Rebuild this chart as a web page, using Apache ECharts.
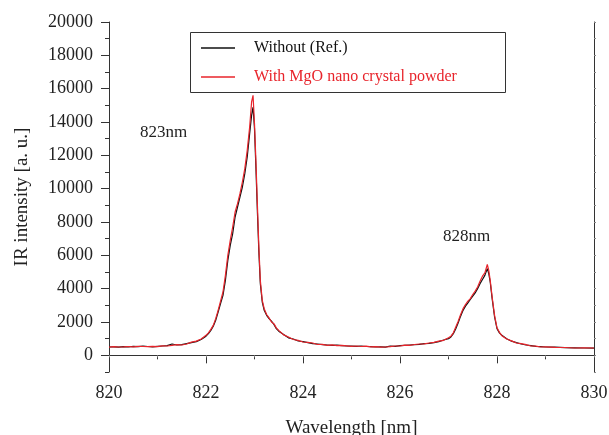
<!DOCTYPE html>
<html><head><meta charset="utf-8">
<script src="https://cdn.jsdelivr.net/npm/echarts@6/dist/echarts.min.js"></script>
<style>html,body{margin:0;padding:0;background:#fff}#c{width:609px;height:435px}</style>
</head><body><div id="c"></div>
<script>
const wavelengths = [820.0,820.1,820.2,820.3,820.4,820.5,820.6,820.7,820.8,820.9,821.0,821.1,821.2,821.3,821.4,821.5,821.6,821.7,821.8,821.9,
822.0,822.05,822.1,822.15,822.2,822.25,822.3,822.35,822.4,822.45,822.5,822.55,822.6,822.65,822.7,822.75,822.8,822.85,822.9,822.94,822.97,
823.0,823.03,823.06,823.09,823.12,823.16,823.2,823.25,823.3,823.35,823.4,823.45,823.5,823.6,823.7,823.8,823.9,
824.0,824.1,824.2,824.3,824.4,824.5,824.6,824.7,824.8,824.9,825.0,825.1,825.2,825.3,825.4,825.5,825.6,825.7,825.8,825.9,
826.0,826.1,826.2,826.3,826.4,826.5,826.6,826.7,826.8,826.9,827.0,827.05,827.1,827.15,827.2,827.25,827.3,827.35,827.4,827.45,827.5,827.55,827.6,827.65,827.7,827.75,827.8,827.83,827.86,827.9,827.95,
828.0,828.05,828.1,828.2,828.3,828.4,828.5,828.6,828.7,828.8,828.9,829.0,829.2,829.4,829.6,829.8,830.0];
const withoutRef = [500,510,490,520,500,540,520,550,530,510,540,560,580,680,620,640,700,760,820,950,
1150,1300,1500,1750,2100,2600,3100,3600,4500,5700,6600,7300,8300,8900,9500,10100,10900,11900,13300,14400,14900,
13600,11200,8600,6200,4300,3200,2700,2400,2200,2050,1850,1600,1450,1250,1050,980,860,
820,760,700,680,640,620,600,610,580,560,550,540,560,530,520,500,510,490,560,540,
580,600,620,640,660,700,720,760,820,920,1000,1100,1300,1600,1950,2350,2700,2950,3150,3350,3550,3750,4000,4300,4550,4800,5200,4900,4400,3400,2300,
1600,1350,1200,1000,850,760,680,620,580,540,520,500,490,460,450,440,430];
const withMgO = [490,520,500,510,530,510,540,530,520,540,520,570,560,600,640,620,680,790,850,980,
1200,1350,1560,1800,2200,2700,3250,3800,4800,6000,6900,7700,8600,9100,9700,10400,11200,12300,13700,15200,15600,
13900,11600,9000,6500,4500,3300,2800,2450,2250,2000,1900,1650,1500,1230,1100,950,900,
800,780,740,650,660,600,630,580,600,570,540,560,530,550,510,520,490,500,520,560,
560,610,600,650,680,690,740,780,850,900,1050,1150,1350,1700,2050,2450,2800,3050,3250,3400,3650,3850,4100,4450,4750,4950,5450,5100,4500,3500,2400,
1650,1380,1180,980,870,740,700,640,560,550,500,510,480,470,440,450,440];
const seriesNames = ['Without (Ref.)','With MgO nano crystal powder'];
const yMajorTicks = [0,2000,4000,6000,8000,10000,12000,14000,16000,18000,20000];
const yMinorTicks = [-1000,1000,3000,5000,7000,9000,11000,13000,15000,17000,19000];
const peakLabels = ['823nm','828nm'];

const font = '"Liberation Serif","DejaVu Serif",serif';
const axisColor = '#333';
const chart = echarts.init(document.getElementById('c'));
const pair = (arr) => wavelengths.map((w,i)=>[w,arr[i]]);
const allY = yMajorTicks.concat(yMinorTicks).sort((a,b)=>a-b);
const plain = (v) => String(v);
chart.setOption({
  animation:false,
  textStyle:{fontFamily:font},
  grid:{left:109,right:15,top:22,bottom:63,outerBoundsMode:'none',containLabel:false},
  xAxis:[{
    type:'value',min:820,max:830,interval:2,position:'bottom',
    name:'Wavelength [nm]',nameLocation:'middle',nameGap:47,
    nameTextStyle:{fontFamily:font,fontSize:19,color:'#222'},
    axisLine:{lineStyle:{color:axisColor,width:1}},
    axisTick:{show:true,length:8,inside:false,lineStyle:{color:axisColor}},
    minorTick:{show:true,splitNumber:2,length:4,lineStyle:{color:axisColor}},
    axisLabel:{fontFamily:font,fontSize:18,color:'#222',margin:12,formatter:plain},
    splitLine:{show:false}
  },{
    type:'value',min:820,max:830,interval:1,position:'top',
    axisLine:{show:true,lineStyle:{color:axisColor,width:1}},
    axisTick:{show:true,length:2,inside:true,lineStyle:{color:'#888'}},
    axisLabel:{show:false},splitLine:{show:false}
  }],
  yAxis:[{
    type:'value',min:-1000,max:20000,position:'left',
    name:'IR intensity [a. u.]',nameLocation:'middle',nameGap:77,nameRotate:90,
    nameTextStyle:{fontFamily:font,fontSize:19,color:'#222'},
    axisLine:{show:true,lineStyle:{color:axisColor,width:1}},
    axisTick:{show:true,length:8,customValues:yMajorTicks,lineStyle:{color:axisColor}},
    axisLabel:{fontFamily:font,fontSize:18,color:'#222',margin:16,customValues:yMajorTicks,formatter:plain},
    splitLine:{show:false}
  },{
    type:'value',min:-1000,max:20000,position:'left',
    axisLine:{show:false},
    axisTick:{show:true,length:4,customValues:yMinorTicks,lineStyle:{color:axisColor}},
    axisLabel:{show:false,customValues:yMinorTicks},
    splitLine:{show:false}
  },{
    type:'value',min:-1000,max:20000,position:'right',
    axisLine:{show:true,lineStyle:{color:axisColor,width:1}},
    axisTick:{show:true,length:2,customValues:allY,lineStyle:{color:'#888'}},
    axisLabel:{show:false,customValues:allY},
    splitLine:{show:false}
  }],
  legend:{
    orient:'vertical',left:201,top:40,padding:0,itemWidth:34,itemHeight:14,itemGap:13,
    icon:'path://M0,6 L34,6 L34,7.6 L0,7.6 Z',
    textStyle:{fontFamily:font,fontSize:16,padding:[0,0,0,14]},
    data:[{name:seriesNames[0],textStyle:{color:'#111'},itemStyle:{color:'#111'}},
          {name:seriesNames[1],textStyle:{color:'#e8242b'},itemStyle:{color:'#e8242b'}}]
  },
  graphic:[
    {type:'rect',shape:{x:190.5,y:32.5,width:315,height:60},style:{fill:'none',stroke:'#333',lineWidth:1},z:100},
    {type:'text',left:140,top:124,style:{text:peakLabels[0],font:'17px '+font,fill:'#222'},z:100},
    {type:'text',left:443,top:228,style:{text:peakLabels[1],font:'17px '+font,fill:'#222'},z:100}
  ],
  series:[
    {name:seriesNames[0],type:'line',data:pair(withoutRef),showSymbol:false,symbol:'none',
     lineStyle:{color:'#111',width:1.2},itemStyle:{color:'#111'},z:2},
    {name:seriesNames[1],type:'line',data:pair(withMgO),showSymbol:false,symbol:'none',
     lineStyle:{color:'#e8242b',width:1.2},itemStyle:{color:'#e8242b'},z:3}
  ]
});
</script></body></html>
